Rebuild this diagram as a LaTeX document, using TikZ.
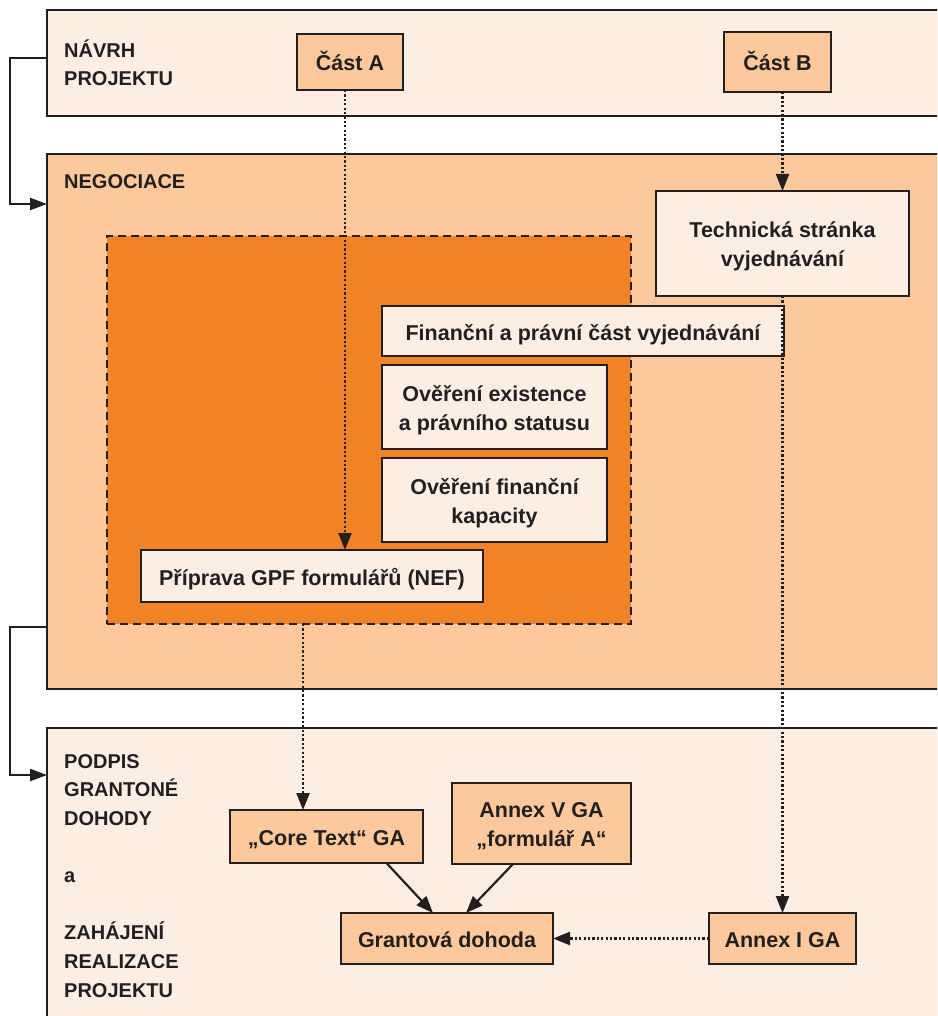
\documentclass[tikz,border=0pt]{standalone}
\usepackage{fontspec}
\setmainfont{Liberation Sans}
\usetikzlibrary{arrows.meta}
\definecolor{ink}{HTML}{231F20}
\definecolor{pale}{HTML}{FDEEE3}
\definecolor{peach}{HTML}{FCC89C}
\definecolor{deeporange}{HTML}{F28226}
\begin{document}
\begin{tikzpicture}[x=1pt,y=-1pt,
  font=\fontsize{21.5}{28.6}\selectfont\bfseries, text=ink,
  panel/.style={draw=ink, line width=2.2pt, anchor=north west, inner sep=0pt, outer sep=0pt},
  box/.style={draw=ink, line width=2.2pt, inner sep=0pt, outer sep=0pt, align=center, text height=18pt, text depth=0pt},
  twoline/.style={text height=46pt, text depth=0pt},
  lab/.style={anchor=base west, align=left, inner sep=0pt, font=\fontsize{20}{28.6}\selectfont\bfseries},
  dotarrow/.style={draw=ink, line width=2.2pt, dash pattern=on 2.2pt off 2.2pt, -{Triangle[length=17pt,width=13pt]}},
  solidarrow/.style={draw=ink, line width=2.2pt, -{Triangle[length=17pt,width=13pt]}},
  looparrow/.style={draw=ink, line width=2.2pt, -{Triangle[length=17pt,width=12pt]}}
]
\useasboundingbox (0,0) rectangle (937,1016);
\fill[white] (0,0) rectangle (937,1016);
\begin{scope}
\clip (0,0) rectangle (937,1016);
% panels
\node[panel, fill=pale, minimum width=960pt, minimum height=106pt] (navrh) at (47,10) {};
\node[panel, fill=peach, minimum width=960pt, minimum height=535pt] (neg) at (47,154) {};
\node[panel, fill=pale, minimum width=960pt, minimum height=320pt] (podpis) at (47,728) {};
% dashed area
\node[panel, fill=deeporange, dash pattern=on 8pt off 5pt, minimum width=524pt, minimum height=388pt] (nef) at (107,236) {};
\end{scope}
% labels (anchored at the baseline of the last line)
\node[lab] (lnavrh) at (64,86) {NÁVRH\\PROJEKTU};
\node[lab] (lneg) at (64,189) {NEGOCIACE};
\node[lab] (lpodpis) at (64,997) {PODPIS\\GRANTONÉ\\DOHODY\\\\a\\\\ZAHÁJENÍ\\REALIZACE\\PROJEKTU};
% boxes
\node[box, fill=peach, minimum width=106pt, minimum height=56pt] (castA) at (350,62) {Část A};
\node[box, fill=peach, minimum width=107pt, minimum height=60pt] (castB) at (777.5,62) {Část B};
\node[box, twoline, fill=pale, minimum width=253pt, minimum height=105pt] (tech) at (782.5,243.5) {Technická stránka\\vyjednávání};
\node[box, fill=pale, minimum width=402pt, minimum height=50pt] (fin) at (583,331) {Finanční a právní část vyjednávání};
\node[box, twoline, fill=pale, minimum width=225pt, minimum height=84pt] (over1) at (494.5,407) {Ověření existence\\a právního statusu};
\node[box, twoline, fill=pale, minimum width=225pt, minimum height=84pt] (over2) at (494.5,500) {Ověření finanční\\kapacity};
\node[box, fill=pale, minimum width=342pt, minimum height=52pt] (prip) at (312,576) {Příprava GPF formulářů (NEF)};
\node[box, fill=peach, minimum width=193pt, minimum height=53pt] (core) at (326.5,836.5) {„Core Text“ GA};
\node[box, twoline, fill=peach, minimum width=179pt, minimum height=81pt] (annexV) at (541.5,823.5) {Annex V GA\\„formulář A“};
\node[box, fill=peach, minimum width=212pt, minimum height=51pt] (grant) at (447,938.5) {Grantová dohoda};
\node[box, fill=peach, minimum width=147pt, minimum height=51pt] (annexI) at (782.5,938.5) {Annex I GA};
% connectors
\coordinate (aTop) at ([xshift=-5pt]castA.south);
\draw[dotarrow] (aTop) -- (aTop |- prip.north);
\draw[dotarrow] (castB.south -| tech.north) -- (tech.north);
\draw[dotarrow] (tech.south) -- (annexI.north);
\coordinate (coreIn) at ([xshift=-23.5pt]core.north);
\draw[dotarrow] (nef.south -| coreIn) -- (coreIn);
\draw[dotarrow] (annexI.west) -- (grant.east);
\draw[solidarrow] ([xshift=60pt]core.south) -- ([xshift=-14pt]grant.north);
\draw[solidarrow] ([xshift=-28.5pt]annexV.south) -- ([xshift=19pt]grant.north);
% loops
\draw[looparrow] (navrh.west |- 0,58) -- (10,58) -- (10,204) -- (neg.west |- 0,204);
\draw[looparrow] (neg.west |- 0,627) -- (10,627) -- (10,775) -- (podpis.west |- 0,775);
\end{tikzpicture}
\end{document}
